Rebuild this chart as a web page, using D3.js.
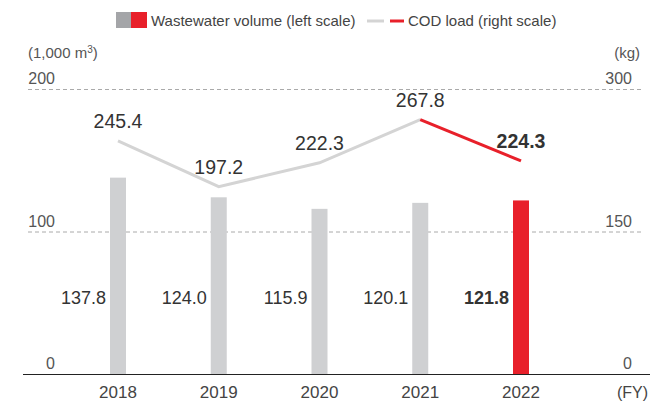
<!DOCTYPE html>
<html>
<head>
<meta charset="utf-8">
<script src="https://cdn.jsdelivr.net/npm/d3@7"></script>
<style>
  body { margin: 0; background: #fff; }
  svg { font-family: "Liberation Sans", Arial, sans-serif; }
</style>
</head>
<body>
<svg id="chart" width="652" height="405"></svg>
<script>
// Data.
const years = ['2018', '2019', '2020', '2021', '2022'];
const volume = [137.8, 124.0, 115.9, 120.1, 121.8];
const cod = [245.4, 197.2, 222.3, 267.8, 224.3];
const leftTicks = [0, 100, 200];
const rightTicks = [0, 150, 300];

const grey = '#cfd0d2';
const red = '#e8202a';
const lineGrey = '#d4d4d4';

const svg = d3.select('#chart');

// Scales.
const x = d3.scalePoint().domain(years).range([118, 521]);
const yLeft = d3.scaleLinear().domain([0, 200]).range([374, 89]);
const yRight = d3.scaleLinear().domain([0, 300]).range([374, 89]);

// Gridlines (dashed, above 0).
svg.append('g')
  .selectAll('line')
  .data(leftTicks.filter(d => d > 0))
  .join('line')
  .attr('x1', 28)
  .attr('x2', 641)
  .attr('y1', d => yLeft(d) + 0.5)
  .attr('y2', d => yLeft(d) + 0.5)
  .attr('stroke', '#aaa')
  .attr('stroke-width', 1)
  .attr('stroke-dasharray', '4,3');

// Tick labels.
svg.append('g')
  .selectAll('text')
  .data(leftTicks)
  .join('text')
  .attr('x', 55)
  .attr('y', d => yLeft(d) - 5)
  .attr('text-anchor', 'end')
  .attr('fill', '#555')
  .style('font-size', '16px')
  .text(d => d);

svg.append('g')
  .selectAll('text')
  .data(rightTicks)
  .join('text')
  .attr('x', 632)
  .attr('y', d => yRight(d) - 5)
  .attr('text-anchor', 'end')
  .attr('fill', '#555')
  .style('font-size', '16px')
  .text(d => d);

// Units.
svg.append('text')
  .attr('x', 28).attr('y', 58)
  .attr('fill', '#555')
  .style('font-size', '15px')
  .html('(1,000 m<tspan dy="-5" font-size="10">3</tspan><tspan dy="5">)</tspan>');

svg.append('text')
  .attr('x', 640).attr('y', 58)
  .attr('text-anchor', 'end')
  .attr('fill', '#555')
  .style('font-size', '15px')
  .text('(kg)');

// Bars.
const barW = 16;
svg.append('g')
  .selectAll('rect')
  .data(volume)
  .join('rect')
  .attr('x', (d, i) => x(years[i]) - barW / 2)
  .attr('y', d => yLeft(d))
  .attr('width', barW)
  .attr('height', d => yLeft(0) - yLeft(d))
  .attr('fill', (d, i) => (i === years.length - 1 ? red : grey));

// Bar value labels.
svg.append('g')
  .selectAll('text')
  .data(volume)
  .join('text')
  .attr('x', (d, i) => x(years[i]) - 12)
  .attr('y', 304)
  .attr('text-anchor', 'end')
  .attr('fill', '#333')
  .style('font-size', '18px')
  .style('font-weight', (d, i) => (i === years.length - 1 ? 'bold' : 'normal'))
  .text(d => d.toFixed(1));

// Axis line.
svg.append('line')
  .attr('x1', 23).attr('x2', 650)
  .attr('y1', 374.5).attr('y2', 374.5)
  .attr('stroke', '#222')
  .attr('stroke-width', 1.2);

// X labels.
svg.append('g')
  .selectAll('text')
  .data(years)
  .join('text')
  .attr('x', d => x(d))
  .attr('y', 398)
  .attr('text-anchor', 'middle')
  .attr('fill', '#444')
  .style('font-size', '17px')
  .text(d => d);

svg.append('text')
  .attr('x', 648).attr('y', 398)
  .attr('text-anchor', 'end')
  .attr('fill', '#444')
  .style('font-size', '16px')
  .text('(FY)');

// COD line.
const pts = cod.map((d, i) => [x(years[i]), yRight(d)]);
const line = d3.line();
svg.append('path')
  .attr('d', line(pts.slice(0, 4)))
  .attr('fill', 'none')
  .attr('stroke', lineGrey)
  .attr('stroke-width', 3);
svg.append('path')
  .attr('d', line(pts.slice(3)))
  .attr('fill', 'none')
  .attr('stroke', red)
  .attr('stroke-width', 3);

// Line value labels.
svg.append('g')
  .selectAll('text')
  .data(cod)
  .join('text')
  .attr('x', (d, i) => x(years[i]))
  .attr('y', d => yRight(d) - 13)
  .attr('text-anchor', 'middle')
  .attr('fill', '#333')
  .style('font-size', '19.5px')
  .style('font-weight', (d, i) => (i === years.length - 1 ? 'bold' : 'normal'))
  .text(d => d.toFixed(1));

// Legend.
const lg = svg.append('g');
lg.append('rect').attr('x', 116).attr('y', 12).attr('width', 15).attr('height', 16).attr('fill', '#a4a5a8');
lg.append('rect').attr('x', 131).attr('y', 12).attr('width', 16).attr('height', 16).attr('fill', red);
lg.append('text')
  .attr('x', 151).attr('y', 26)
  .attr('fill', '#444')
  .style('font-size', '15px')
  .text('Wastewater volume (left scale)');
lg.append('line').attr('x1', 367).attr('x2', 384).attr('y1', 21).attr('y2', 21)
  .attr('stroke', lineGrey).attr('stroke-width', 3);
lg.append('line').attr('x1', 390).attr('x2', 404).attr('y1', 21).attr('y2', 21)
  .attr('stroke', red).attr('stroke-width', 3);
lg.append('text')
  .attr('x', 408).attr('y', 26)
  .attr('fill', '#444')
  .style('font-size', '15px')
  .text('COD load (right scale)');
</script>
</body>
</html>
